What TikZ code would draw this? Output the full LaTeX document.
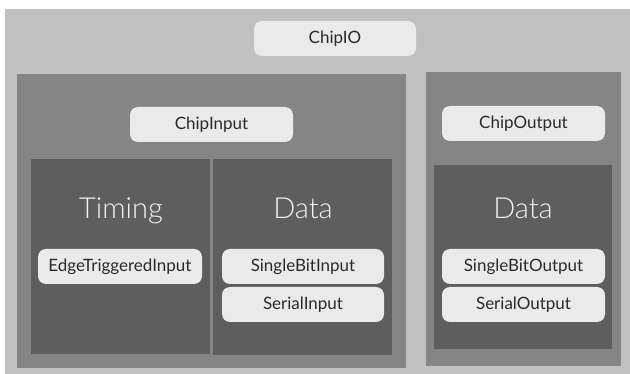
\documentclass[tikz,border=0pt]{standalone}
\usepackage{fontspec}
\setmainfont{Lato}
\newfontfamily\lightfont{Lato Light}
\usetikzlibrary{positioning}
\definecolor{bgouter}{RGB}{192,192,192}
\definecolor{bgmid}{RGB}{133,133,133}
\definecolor{bgdark}{RGB}{94,94,94}
\definecolor{pillfill}{RGB}{234,234,234}
\definecolor{pilltext}{RGB}{42,42,42}
\tikzset{
  panel/.style={draw=none, inner sep=0pt, anchor=north west},
  pill/.style={fill=pillfill, rounded corners=8pt, minimum width=163pt,
    minimum height=35pt, inner sep=0pt, text=pilltext,
    font=\fontsize{17}{17}\selectfont},
  heading/.style={anchor=base, text=white!95!black,
    font=\lightfont\fontsize{29}{29}\selectfont}
}

\begin{document}
\begin{tikzpicture}[x=1pt, y=-1pt]
    \useasboundingbox (0,0) rectangle (630,374);
    % panels
    \node[panel, fill=bgouter, minimum width=625pt, minimum height=365pt] (iobox) at (5,9) {};
    \node[panel, fill=bgmid, minimum width=389pt, minimum height=294pt] (inbox) at (17,74) {};
    \node[panel, fill=bgmid, minimum width=195pt, minimum height=294pt] (outbox) at (426,72) {};
    \node[panel, fill=bgdark, minimum width=179pt, minimum height=195pt] (timingbox) at (31,159) {};
    \node[panel, fill=bgdark, minimum width=179pt, minimum height=196pt] (indatabox) at (213,159) {};
    \node[panel, fill=bgdark, minimum width=178pt, minimum height=184pt] (outdatabox) at (434,165) {};
    % headings
    \node[heading] (timing) at (121,219) {Timing};
    \node[heading] (indata) at (303,219) {Data};
    \node[heading] (outdata) at (523,219) {Data};
    % pills
    \node[pill, minimum width=162pt] (chipio) at (335,38.5) {ChipIO};
    \node[pill] (chipinput) at (211.5,124.5) {ChipInput};
    \node[pill] (chipoutput) at (523.5,123.5) {ChipOutput};
    \node[pill, minimum width=164pt] (edge) at (120,266.5) {EdgeTriggeredInput};
    \node[pill, minimum width=162pt] (singlein) at (303,266.5) {SingleBitInput};
    \node[pill, minimum width=162pt] (serialin) at (303,304.5) {SerialInput};
    \node[pill] (singleout) at (523.5,266.5) {SingleBitOutput};
    \node[pill] (serialout) at (523.5,304.5) {SerialOutput};
\end{tikzpicture}
\end{document}
